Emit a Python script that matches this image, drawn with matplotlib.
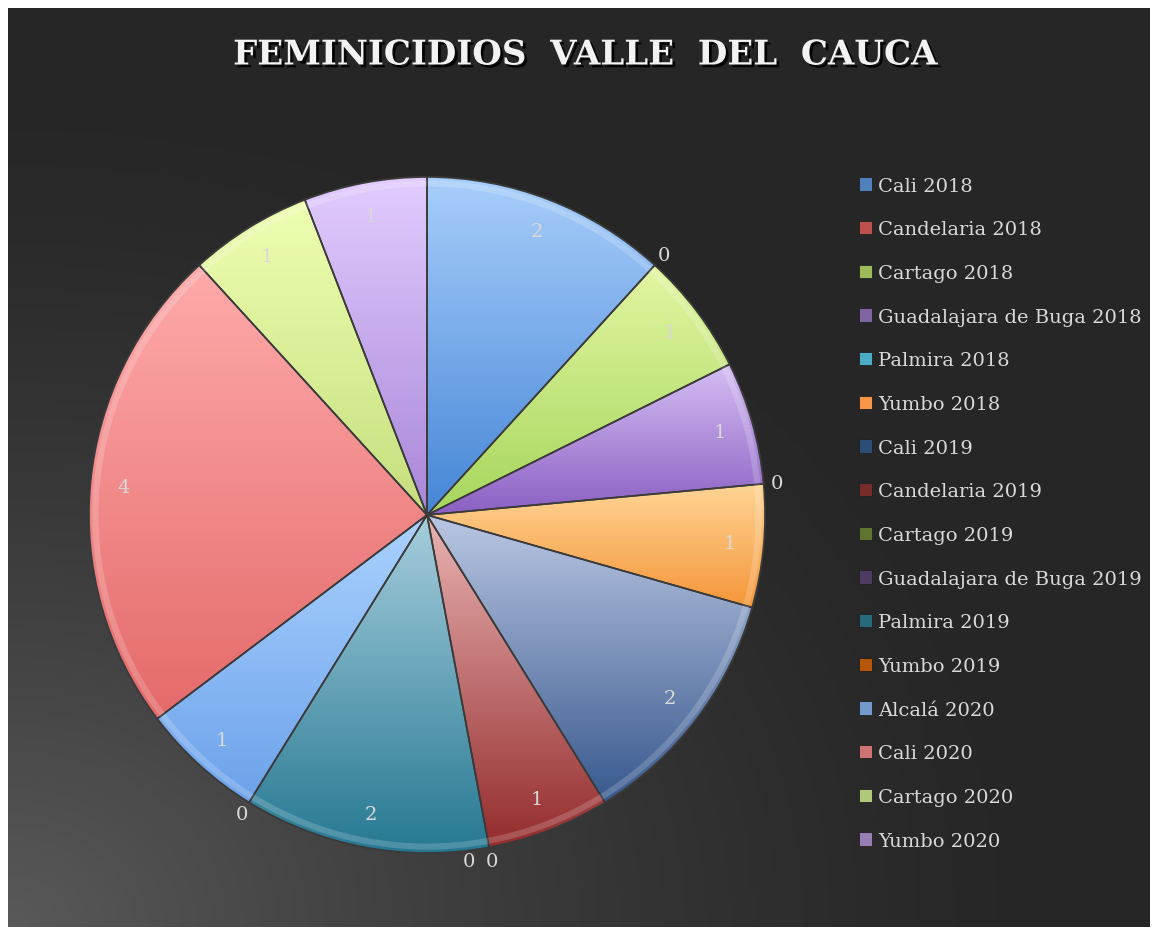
import numpy as np
import matplotlib
matplotlib.use("Agg")
import matplotlib.pyplot as plt
import matplotlib.patheffects as pe
from matplotlib.patches import Wedge
from matplotlib.colors import LinearSegmentedColormap

# data
labels = ["Cali 2018", "Candelaria 2018", "Cartago 2018", "Guadalajara de Buga 2018",
          "Palmira 2018", "Yumbo 2018", "Cali 2019", "Candelaria 2019", "Cartago 2019",
          "Guadalajara de Buga 2019", "Palmira 2019", "Yumbo 2019", "Alcalá 2020",
          "Cali 2020", "Cartago 2020", "Yumbo 2020"]
values = [2, 0, 1, 1, 0, 1, 2, 1, 0, 0, 2, 0, 1, 4, 1, 1]

# legend / base colours
base_colors = ["#4F81BD", "#C0504D", "#9BBB59", "#8064A2", "#4BACC6", "#F79646",
               "#2C4D75", "#772C2A", "#5F7530", "#4D3B62", "#276A7C", "#B65708",
               "#729ACA", "#CD7371", "#AFC97A", "#977FB5"]
# gradient top (light) and bottom colours of each slice
top_colors = ["#A8CEFB", "#F2A0A0", "#E2F6A2", "#D6BEF4", "#A8E4F2", "#FFD596",
              "#BAC7E3", "#EAB4B4", "#C8D8A0", "#B8A8CC", "#A6CEDD", "#F0B080",
              "#AAD2FF", "#FFAAAA", "#EEFFB2", "#E2CCFF"]
bottom_colors = ["#4586D6", "#B84040", "#A6D65C", "#8A5FC2", "#3FA8C4", "#F5963A",
                 "#38598E", "#942C2C", "#5F7530", "#4D3B62", "#267892", "#B65708",
                 "#6CA2EA", "#E46A6A", "#C6DE7E", "#A886D8"]

W, H = 1156, 937
fig = plt.figure(figsize=(W / 100, H / 100), dpi=100)
fig.patch.set_facecolor("white")

# dark background with a lighter lower-left corner
bg = fig.add_axes([8 / W, 9 / H, 1142 / W, 919 / H])
yy, xx = np.mgrid[0:1:300j, 0:1:300j]
d = np.sqrt(xx ** 2 + (1 - yy) ** 2) / np.sqrt(2)
shade = 0.15 + 0.20 * np.clip(1 - d * 1.55, 0, 1) ** 1.4
bg.imshow(np.dstack([shade, shade, shade]), extent=[0, 1, 0, 1], aspect="auto", origin="upper")
bg.axis("off")

# pie axes: centre at (427, 516) px, radius 338 px
R = 338
lim = 1.2
size = 2 * R * lim
ax = fig.add_axes([(427 - size / 2) / W, (H - 516 - size / 2) / H, size / W, size / H])
wedges, _ = ax.pie(values, colors=base_colors, startangle=90, counterclock=False,
                   wedgeprops=dict(edgecolor="#3a3a3a", linewidth=1.2))

for w, c1, c2 in zip(wedges, top_colors, bottom_colors):
    if w.theta2 - w.theta1 <= 0:
        continue
    ext = w.get_path().get_extents()
    cmap = LinearSegmentedColormap.from_list("g", [c1, c2])
    grad = np.linspace(0, 1, 256).reshape(-1, 1)
    im = ax.imshow(grad, cmap=cmap, extent=[ext.x0, ext.x1, ext.y0, ext.y1],
                   aspect="auto", origin="upper", zorder=2)
    im.set_clip_path(w)
    ax.add_patch(Wedge(w.center, w.r, w.theta1, w.theta2, facecolor="none",
                       edgecolor="#3a3a3a", linewidth=1.2, zorder=3))
    ax.add_patch(Wedge(w.center, w.r - 0.01, w.theta1, w.theta2, width=0.018,
                       facecolor="white", alpha=0.18, edgecolor="none", zorder=3))

# data labels
for i, (w, v) in enumerate(zip(wedges, values)):
    ang = np.deg2rad((w.theta1 + w.theta2) / 2)
    if v > 0:
        r = 0.9
        x, y = r * np.cos(ang), r * np.sin(ang)
    else:
        r = 1.04
        x, y = r * np.cos(ang), r * np.sin(ang)
        nxt = values[i + 1] if i + 1 < len(values) else 1
        if nxt == 0:
            x -= 0.068
    ax.text(x, y, str(v), ha="center", va="center", fontsize=14,
            color="#d9d9d9", family="DejaVu Serif", zorder=5)

ax.set_xlim(-lim, lim)
ax.set_ylim(-lim, lim)
ax.set_aspect("equal")
ax.axis("off")

leg = fig.legend(wedges, labels, loc="upper left", bbox_to_anchor=(851 / W, 1 - 170 / H),
                 frameon=False, prop=dict(family="DejaVu Serif", size=14),
                 labelcolor="#d9d9d9", handlelength=0.68, handleheight=0.68,
                 handletextpad=0.3, labelspacing=1.32, borderaxespad=0)
for h in leg.legend_handles:
    h.set_edgecolor("#202020")
    h.set_linewidth(0.6)

fig.text(585 / W, 1 - 56 / H, "FEMINICIDIOS  VALLE  DEL  CAUCA", ha="center", va="center",
         fontsize=24.5, fontweight="bold", color="#f2f2f2", family="DejaVu Serif",
         path_effects=[pe.withSimplePatchShadow(offset=(2, -2), shadow_rgbFace="black", alpha=0.9)])

fig.savefig("out.png", dpi=100, facecolor=fig.get_facecolor())
